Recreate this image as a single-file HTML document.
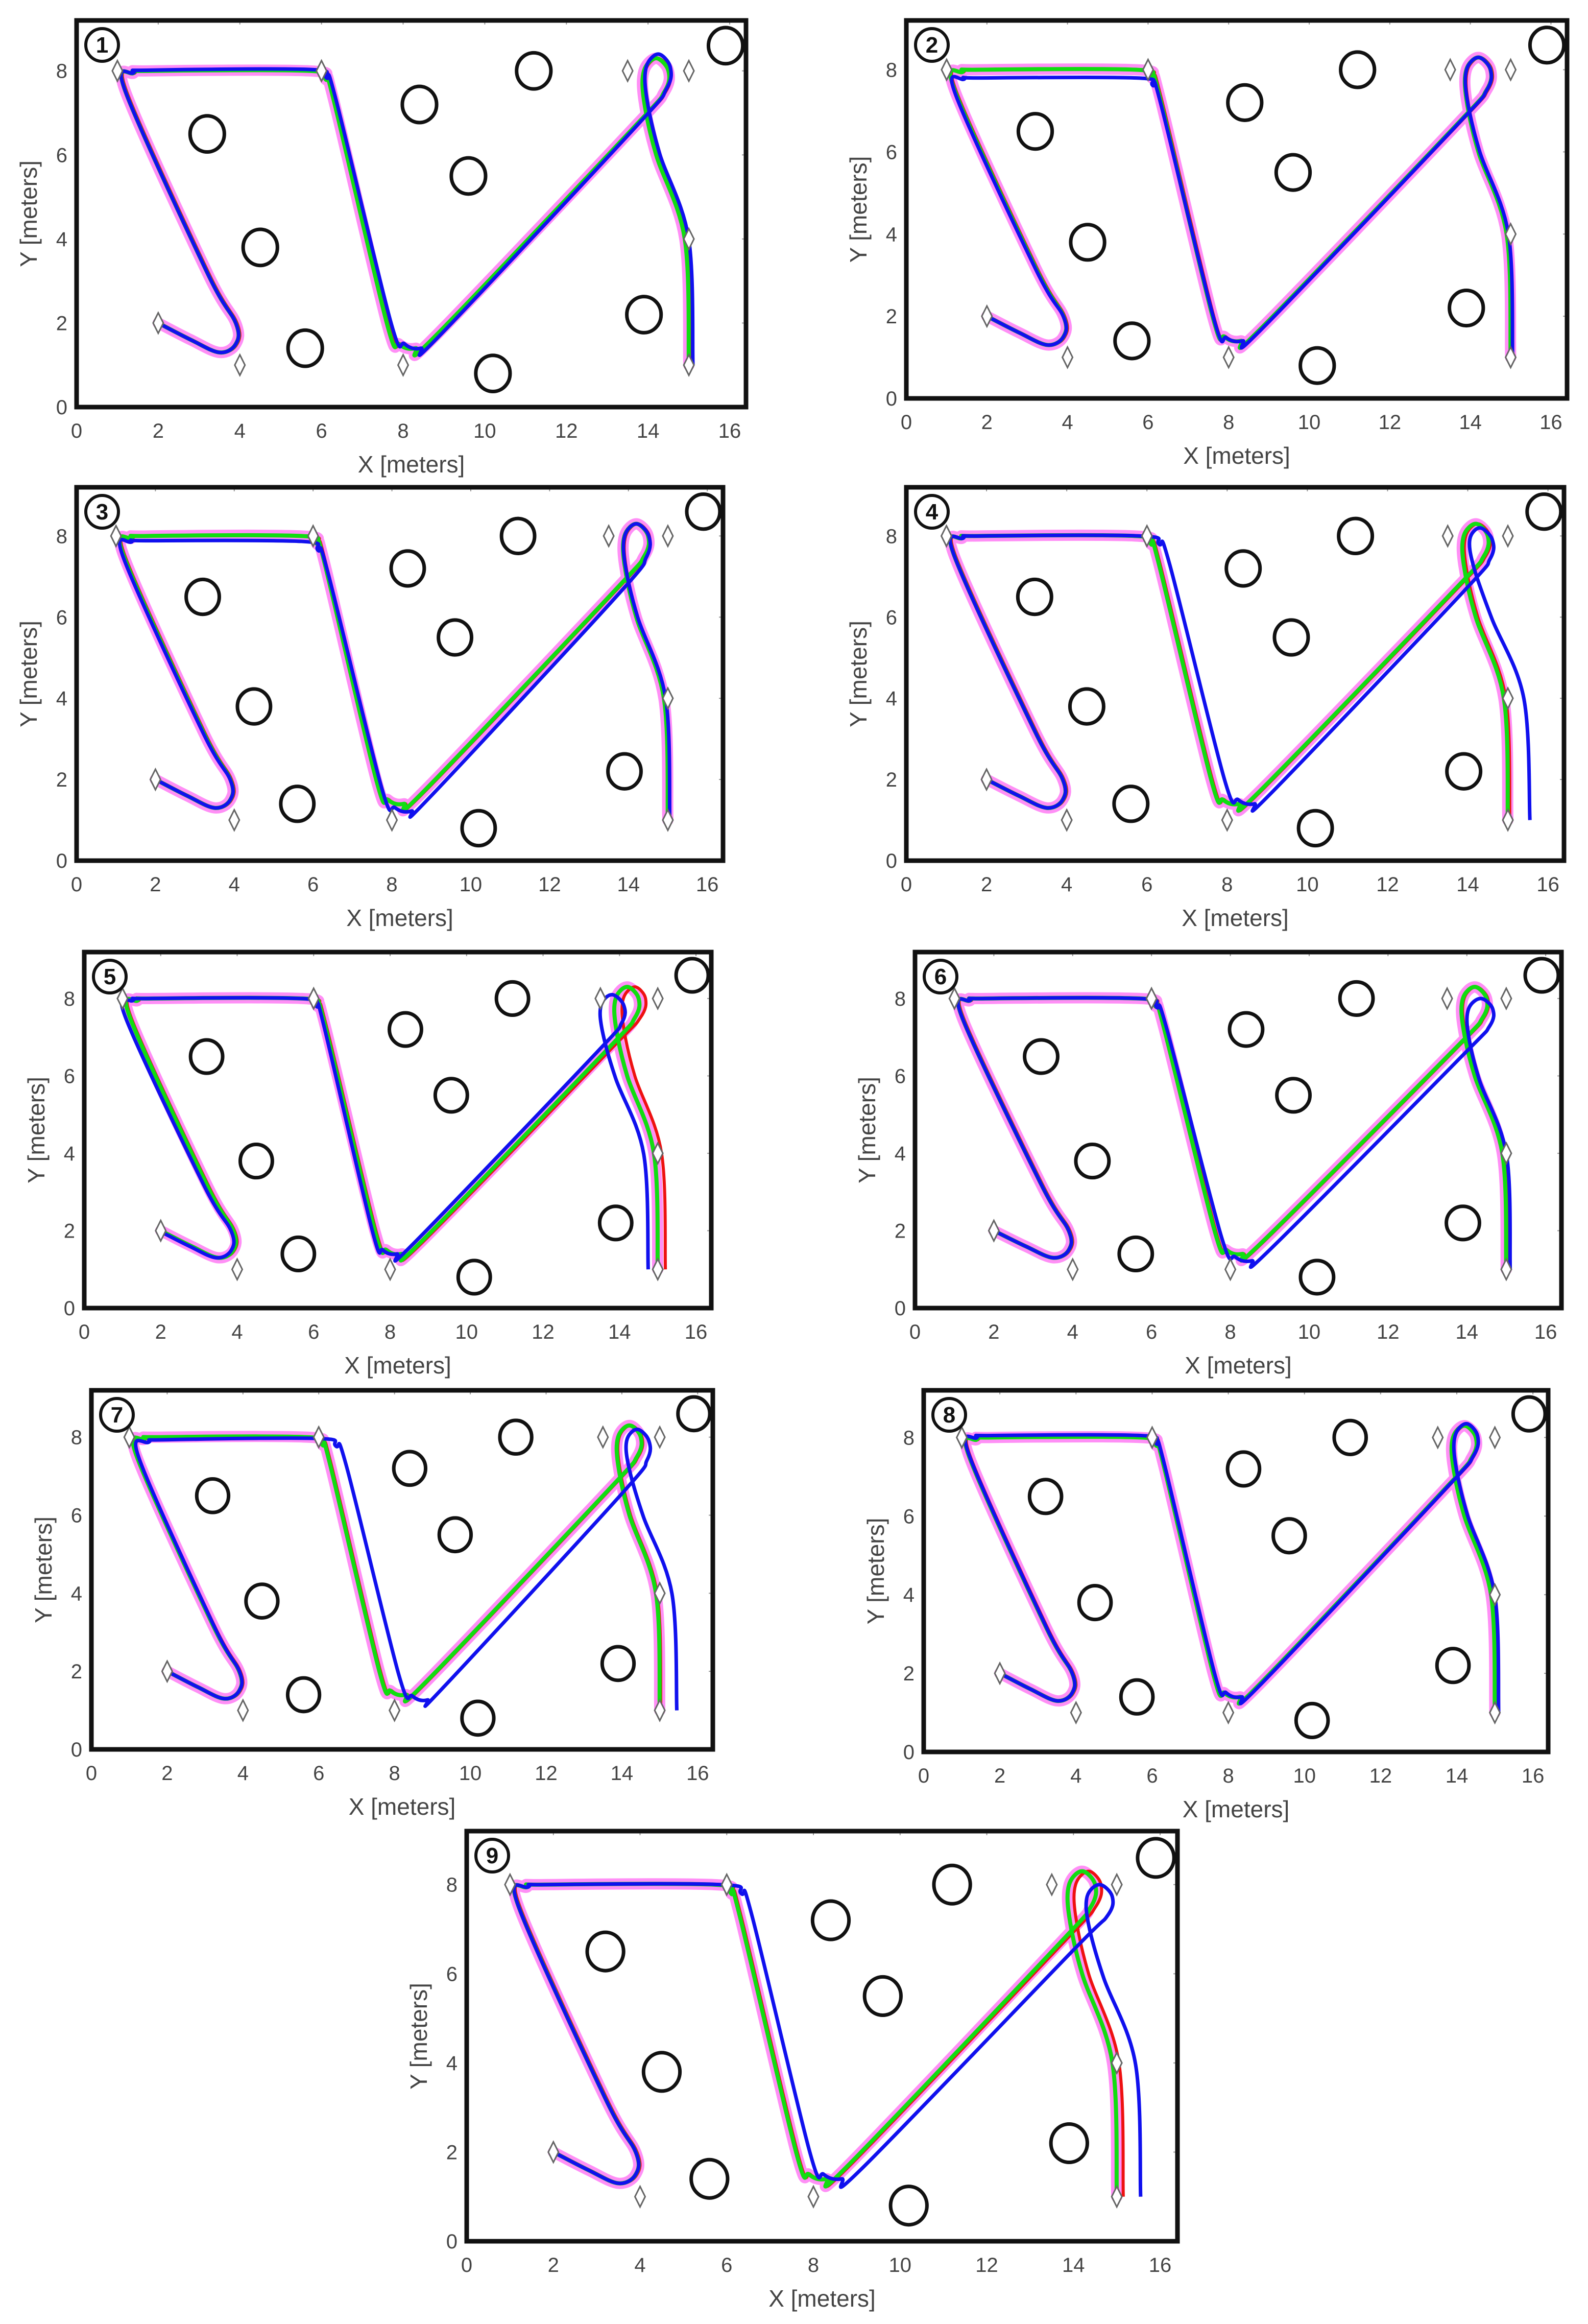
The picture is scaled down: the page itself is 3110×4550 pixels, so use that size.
<!DOCTYPE html>
<html><head><meta charset="utf-8"><style>
html,body{margin:0;padding:0;background:#fff}
svg{display:block}
text{font-family:"Liberation Sans",sans-serif}
</style></head><body>
<svg id="fig" width="3110" height="4550" viewBox="0 0 3110 4550" xmlns="http://www.w3.org/2000/svg"></svg>
<script>
// ---- data ----
const xTicks = [0,2,4,6,8,10,12,14,16];
const yTicks = [0,2,4,6,8];
const obstacleX = [3.2,4.5,5.6,8.4,9.6,10.2,11.2,13.9,15.9];
const obstacleY = [6.5,3.8,1.4,7.2,5.5,0.8,8.0,2.2,8.6];
const waypointX = [2,4,1,6,8,13.5,15,15,15];
const waypointY = [2,1,8,8,1,8,8,4,1];
const refX = [2,2.8,3.5,3.9,3.9,3.2,1.2,1.4,1.8,5.7,6.1,6.3,7.6,7.9,8.3,8.8,13.6,14.4,14.5,14.2,13.9,13.9,14.2,14.9,15.0];
const refY = [2,1.6,1.3,1.5,2.0,3.2,7.5,7.95,8.0,8.0,7.8,7.3,2.0,1.5,1.4,1.7,6.6,7.5,8.0,8.3,8.0,7.3,6.0,4.0,1.0];
const section = [0,0,0,0,0,0,1,1,1,2,2,2,3,3,3,3,4,5,5,5,5,5,6,6,6];
// blue trajectory offsets per panel per path section
const blueDx = [
 [0,0,0,0.15,0,0.05,0.1],
 [0,0.05,0,0.05,0,0,0.05],
 [0,0,0,0.2,0.15,0,0.05],
 [0,0,0.2,0.4,0.2,0.1,0.55],
 [-0.05,-0.15,0,-0.1,-0.3,-0.4,-0.25],
 [0,0,0,0.25,0.2,0.15,0.1],
 [0,0.1,0.35,0.6,0.3,0.2,0.45],
 [0,0,0,0.05,0,0.05,0.1],
 [0,0,0.25,0.35,0.35,0.4,0.55]
];
const blueDy = [
 [0,0,0.05,0,0,0.1,0],
 [0,-0.2,-0.2,0,0,0,0],
 [0,-0.1,-0.15,-0.2,0,0,0],
 [0,0,0,0,0,-0.1,0],
 [0,0,0,0,0,-0.2,0],
 [0,0,0,-0.2,0,-0.3,0],
 [0,-0.1,0,-0.15,0,-0.1,0],
 [0,0.05,0.05,0,0,0.05,0],
 [0,0,0,0,0,-0.3,0]
];
const redDx = [0.03,0.03,0.03,0.05,0.2,0.03,0.03,0.03,0.15];
const panelLabels = ["1","2","3","4","5","6","7","8","9"];
// ---- layout ----
const frames = [
 [150,40,1311,757],[1775,40,1294,740],
 [150,954,1266,731],[1775,954,1288,731],
 [165,1864,1228,697],[1792,1864,1266,697],
 [179,2722,1217,703],[1809,2722,1223,708],
 [914,3585,1392,803]
];
const XMAX=16.4, YMAX=9.2;
const NS="http://www.w3.org/2000/svg";
const svg=document.getElementById('fig');
function mk(tag,attrs,parent){const e=document.createElementNS(NS,tag);for(const k in attrs)e.setAttribute(k,attrs[k]);(parent||svg).appendChild(e);return e;}
function smoothPath(pts){
  let d=`M${pts[0][0]},${pts[0][1]}`;
  for(let i=0;i<pts.length-1;i++){
    const p0=pts[Math.max(0,i-1)],p1=pts[i],p2=pts[i+1],p3=pts[Math.min(pts.length-1,i+2)];
    const c1=[p1[0]+(p2[0]-p0[0])/6,p1[1]+(p2[1]-p0[1])/6];
    const c2=[p2[0]-(p3[0]-p1[0])/6,p2[1]-(p3[1]-p1[1])/6];
    d+=` C${c1[0]},${c1[1]} ${c2[0]},${c2[1]} ${p2[0]},${p2[1]}`;
  }
  return d;
}
function smoothOffsets(arr){
  let a=arr.slice();
  for(let pass=0;pass<2;pass++){
    a=a.map((v,i)=>(a[Math.max(0,i-1)]+v+a[Math.min(a.length-1,i+1)])/3);
  }
  return a;
}
frames.forEach((f,pi)=>{
  const [fx,fy,fw,fh]=f;
  const sx=v=>fx+v/XMAX*fw;
  const sy=v=>fy+fh-v/YMAX*fh;
  const g=mk('g',{});
  
  
  mk('rect',{x:fx,y:fy,width:fw,height:fh,fill:'#fff'},g);
  xTicks.forEach(t=>{
    const tx=mk('text',{x:sx(t),y:fy+fh+60,'font-size':40,fill:'#444','text-anchor':'middle'},g);
    tx.textContent=t;
    
    
    mk('line',{x1:sx(t),x2:sx(t),y1:fy,y2:fy+8,stroke:'#999','stroke-width':2},g);
  });
  yTicks.forEach(t=>{
    const ty=mk('text',{x:fx-18,y:sy(t)+14,'font-size':40,fill:'#444','text-anchor':'end'},g);
    ty.textContent=t;
    
    
    mk('line',{x1:fx+fw-8,x2:fx+fw,y1:sy(t),y2:sy(t),stroke:'#999','stroke-width':2},g);
  });
  const xl=mk('text',{x:fx+fw/2,y:fy+fh+128,'font-size':46,fill:'#444','text-anchor':'middle'},g);
  xl.textContent='X [meters]';
  
  
  const yl=mk('text',{x:0,y:0,'font-size':46,fill:'#444','text-anchor':'middle',transform:`translate(${fx-78},${fy+fh/2}) rotate(-90)`},g);
  yl.textContent='Y [meters]';
  
  
  obstacleX.forEach((ox,i)=>{
    const e=mk('ellipse',{cx:sx(ox),cy:sy(obstacleY[i]),rx:0.42/XMAX*fw,ry:0.43/YMAX*fh,fill:'none',stroke:'#111','stroke-width':7},g);
    
    
  });
  const refPts=refX.map((x,i)=>[sx(x),sy(refY[i])]);
  const wl=mk('path',{d:smoothPath(refPts),fill:'none',stroke:'#777','stroke-width':3,'stroke-dasharray':'8 8'},g);
  
  
  const mg=mk('path',{d:smoothPath(refPts),fill:'none',stroke:'#ff33ee','stroke-width':22,'stroke-opacity':0.55,'stroke-linejoin':'round','stroke-linecap':'round'},g);
  
  
  const rOff=smoothOffsets(section.map(s=>s>=5?redDx[pi]:0.03));
  const redPts=refX.map((x,i)=>[sx(x+rOff[i]),sy(refY[i])]);
  const rd=mk('path',{d:smoothPath(redPts),fill:'none',stroke:'#ee1111','stroke-width':6},g);
  
  
  const grPts=refX.map((x,i)=>[sx(x),sy(refY[i])]);
  const gr=mk('path',{d:smoothPath(grPts),fill:'none',stroke:'#11dd11','stroke-width':8},g);
  
  
  const bx=smoothOffsets(section.map(s=>blueDx[pi][s]));
  const by=smoothOffsets(section.map(s=>blueDy[pi][s]));
  const bPts=refX.map((x,i)=>[sx(x+bx[i]),sy(refY[i]+by[i])]);
  const bl=mk('path',{d:smoothPath(bPts),fill:'none',stroke:'#1010ee','stroke-width':7},g);
  
  
  waypointX.forEach((wx,i)=>{
    const cx=sx(wx),cy=sy(waypointY[i]);
    const d=mk('path',{d:`M${cx},${cy-20} L${cx+10},${cy} L${cx},${cy+20} L${cx-10},${cy} Z`,fill:'#fff',stroke:'#666','stroke-width':3},g);
    
    
  });
  mk('rect',{x:fx,y:fy,width:fw,height:fh,fill:'none',stroke:'#111','stroke-width':9},g);
  const lc=mk('circle',{cx:fx+50,cy:fy+48,r:32,fill:'#fff',stroke:'#111','stroke-width':6},g);
  
  
  const lt=mk('text',{x:fx+50,y:fy+63,'font-size':44,'font-weight':'bold','text-anchor':'middle',fill:'#111'},g);
  lt.textContent=panelLabels[pi];
  
  
});
</script>
</body></html>
